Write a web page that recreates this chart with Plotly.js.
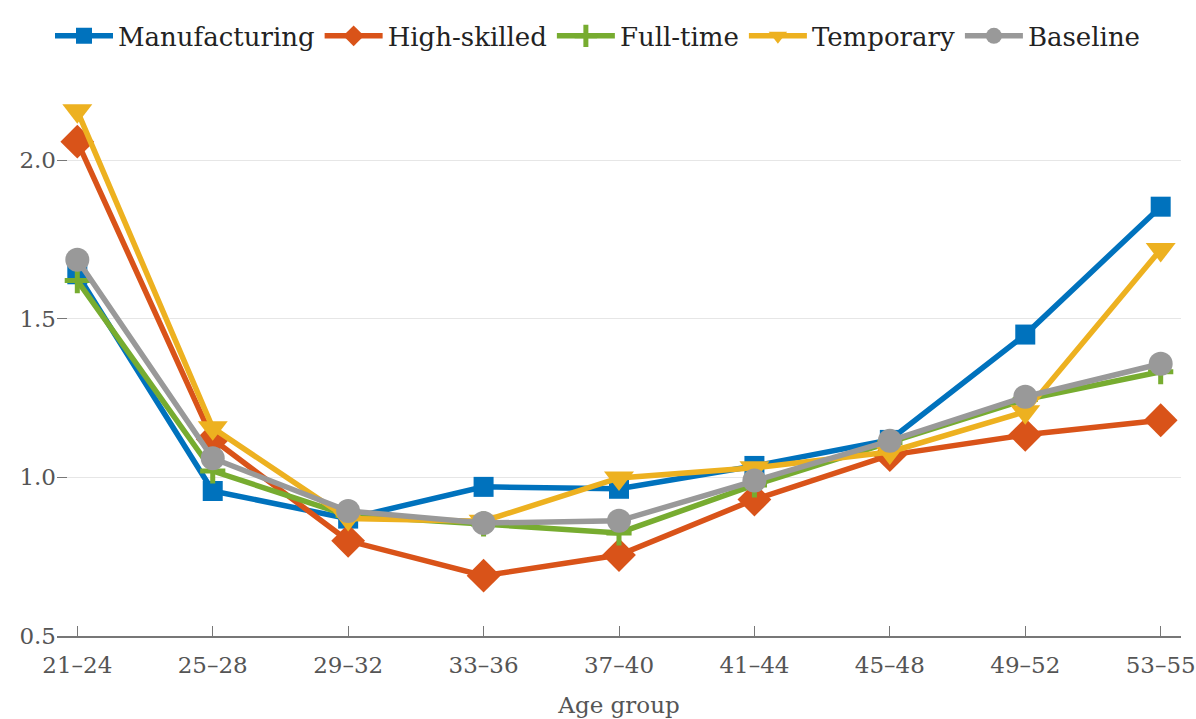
<!DOCTYPE html>
<html><head><meta charset="utf-8">
<script src="https://cdn.plot.ly/plotly-3.0.1.min.js"></script>
<style>html,body{margin:0;padding:0;background:#fff}#chart{width:1196px;height:719px}</style>
</head><body><div id="chart"></div>
<script>
const ageGroups = ["21–24","25–28","29–32","33–36","37–40","41–44","45–48","49–52","53–55"];
const manufacturing = [1.64, 0.957, 0.87, 0.97, 0.964, 1.036, 1.118, 1.45, 1.853];
const highSkilled  = [2.058, 1.12, 0.80, 0.69, 0.755, 0.93, 1.07, 1.134, 1.18];
const fullTime     = [1.62, 1.02, 0.88, 0.853, 0.825, 0.976, 1.11, 1.245, 1.333];
const temporary    = [2.155, 1.156, 0.87, 0.862, 0.998, 1.03, 1.08, 1.207, 1.718];
const baseline     = [1.686, 1.06, 0.894, 0.856, 0.863, 0.99, 1.115, 1.254, 1.358];
const yTicks = [0.5, 1.0, 1.5, 2.0];
const yTickText = ["0.5","1.0","1.5","2.0"];

const FONT = "DejaVu Serif, Liberation Serif, serif";
function tr(name, y, color, symbol, size) {
  return {x: ageGroups, y: y, name: name, type: "scatter", mode: "lines+markers",
    line: {color: color, width: 5.5}, marker: {color: color, symbol: symbol, size: size}};
}
const data = [
  tr("Manufacturing", manufacturing, "#0072BD", "square", 20),
  tr("High-skilled", highSkilled, "#D95319", "diamond", 26),
  tr("Full-time", fullTime, "#77AC30", "cross-thin", 18),
  tr("Temporary", temporary, "#EDB120", "triangle-down", 26),
  tr("Baseline", baseline, "#999999", "circle", 24)
];
data[2].marker.line = {color: "#77AC30", width: 5};
const layout = {
  width: 1196, height: 719,
  margin: {l: 57, r: 15, t: 95, b: 83, autoexpand: false},
  paper_bgcolor: "#fff", plot_bgcolor: "#fff",
  font: {family: FONT, color: "#555", size: 22},
  showlegend: true,
  legend: {orientation: "h", xref: "container", yref: "container", x: 0.5, xanchor: "center",
    y: 0.95, yanchor: "middle",
    font: {family: FONT, size: 26, color: "#222"}, itemwidth: 58, traceorder: "normal"},
  xaxis: {type: "category", range: [-0.15, 8.15], showgrid: false, zeroline: false, automargin: false,
    showline: true, linecolor: "#777", linewidth: 1.5, ticks: "inside", ticklen: 10, tickcolor: "#777",
    ticklabelstandoff: 8, tickangle: 0,
    tickfont: {size: 23, color: "#555"},
    title: {text: "Age group", font: {size: 23, color: "#555"}, standoff: 20}},
  yaxis: {range: [0.5, 2.205], tickvals: yTicks, ticktext: yTickText, showgrid: true, automargin: false,
    gridcolor: "#e6e6e6", gridwidth: 1.2, zeroline: false, showline: false,
    ticks: "inside", ticklen: 10, tickcolor: "#777", tickfont: {size: 23, color: "#555"}}
};
Plotly.newPlot("chart", data, layout, {displayModeBar: false});
</script></body></html>
